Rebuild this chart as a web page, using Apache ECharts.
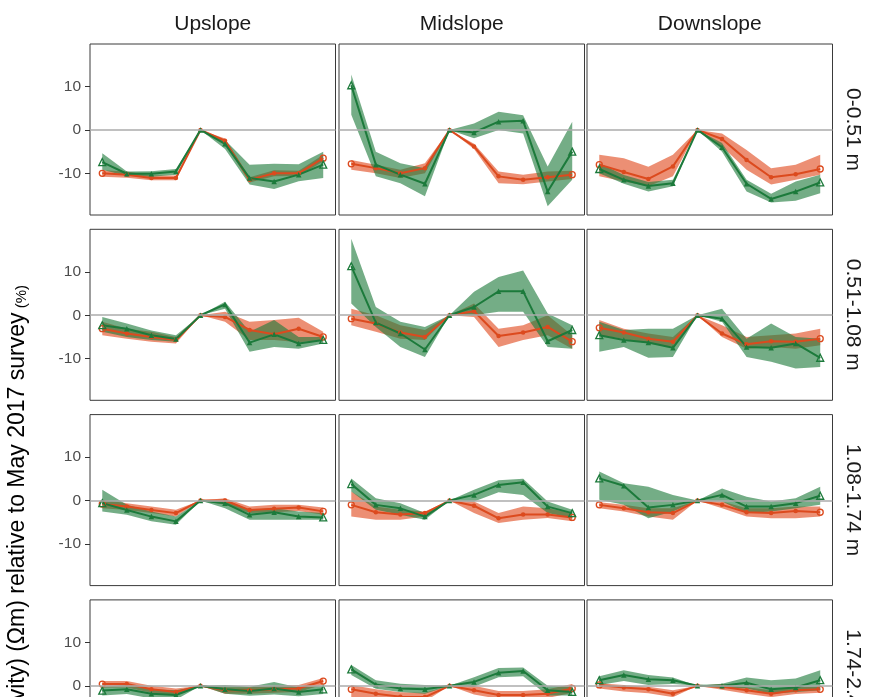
<!DOCTYPE html>
<html>
<head>
<meta charset="utf-8">
<script src="https://cdn.jsdelivr.net/npm/echarts@6/dist/echarts.min.js"></script>
<style>
  html, body { margin: 0; padding: 0; background: #ffffff; }
  #chart { width: 870px; height: 697px; }
</style>
</head>
<body>
<div id="chart"></div>
<script>
// Survey sequence (the 5th survey is the May 2017 reference)
const surveys = ['1', '2', '3', '4', '5', '6', '7', '8', '9', '10'];
const slopes = ['Upslope', 'Midslope', 'Downslope'];
const depths = ['0-0.51 m', '0.51-1.08 m', '1.08-1.74 m', '1.74-2.49 m'];
const yTicks = [-10, 0, 10];

// ---- Orange group: mean, lower and upper bound, one row per depth band ----
const orangeMeanUp = [
  [-10.0, -10.3, -11.1, -11.1, 0, -2.5, -11.5, -10.0, -10.0, -6.5],
  [-3.1, -4.2, -5.0, -5.7, 0, -0.4, -3.4, -4.4, -3.1, -5.0],
  [-0.8, -1.4, -2.2, -2.9, 0, 0.0, -2.2, -1.9, -1.6, -2.5],
  [0.4, 0.4, -0.8, -1.4, 0, -1.0, -1.0, -0.8, -0.6, 1.1]
];
const orangeLowUp = [
  [-10.8, -11.0, -11.6, -11.6, 0, -3.0, -12.1, -10.7, -10.6, -7.3],
  [-4.6, -5.4, -6.1, -6.5, 0, -1.5, -5.7, -5.7, -6.2, -5.7],
  [-1.8, -2.2, -2.9, -3.7, 0, -1.0, -2.9, -2.7, -2.4, -3.3],
  [-0.4, -0.4, -1.6, -2.3, 0, -1.8, -1.8, -1.6, -1.4, 0.3]
];
const orangeHighUp = [
  [-9.3, -9.6, -10.5, -10.5, 0, -2.0, -10.9, -9.3, -9.4, -5.7],
  [-1.5, -3.1, -3.8, -5.0, 0, 0.8, -1.5, -1.1, -0.6, -3.8],
  [0.2, -0.6, -1.4, -2.1, 0, 0.5, -1.4, -1.0, -1.0, -1.6],
  [1.1, 1.1, 0.0, -0.6, 0, -0.3, -0.3, 0.0, 0.2, 1.8]
];

const orangeMeanMid = [
  [-7.8, -8.8, -10.0, -8.8, 0, -3.8, -10.7, -11.5, -10.9, -10.3],
  [-0.8, -1.9, -4.0, -5.0, 0, 0.9, -4.8, -4.0, -2.7, -6.1],
  [-1.0, -2.7, -3.2, -2.9, 0, -1.2, -4.1, -3.2, -3.2, -3.9],
  [-0.8, -1.8, -2.5, -2.6, 0, -1.0, -2.1, -2.1, -1.8, -0.6]
];
const orangeLowMid = [
  [-9.2, -10.0, -11.1, -10.0, 0, -4.4, -12.3, -12.5, -11.9, -11.3],
  [-2.3, -3.8, -5.4, -5.7, 0, -0.4, -7.3, -5.7, -4.6, -7.7],
  [-3.7, -4.4, -4.4, -3.7, 0, -2.9, -5.2, -4.4, -4.0, -4.8],
  [-2.6, -2.8, -3.5, -3.6, 0, -2.0, -3.0, -3.0, -2.8, -1.6]
];
const orangeHighMid = [
  [-6.9, -8.0, -9.2, -7.7, 0, -3.2, -9.6, -10.3, -9.6, -9.4],
  [1.5, 0.0, -2.3, -3.4, 0, 2.7, -3.1, -2.3, 0.0, -4.6],
  [2.1, -1.4, -2.1, -2.5, 0, -0.2, -2.9, -1.4, -1.8, -2.9],
  [0.2, -0.8, -1.5, -1.6, 0, 0.0, -1.2, -1.2, -0.8, 0.4]
];

const orangeMeanDown = [
  [-8.0, -9.7, -11.3, -8.4, 0, -2.1, -6.9, -10.9, -10.2, -9.0],
  [-2.9, -4.0, -5.4, -6.1, 0, -4.2, -6.7, -6.0, -6.1, -5.4],
  [-1.0, -1.8, -2.7, -2.9, 0, -1.0, -2.7, -2.9, -2.4, -2.7],
  [0.2, -0.4, -0.8, -1.8, 0, -0.2, -1.0, -1.8, -1.0, -0.8]
];
const orangeLowDown = [
  [-10.7, -11.9, -13.0, -10.7, 0, -3.8, -9.2, -12.6, -11.5, -10.3],
  [-4.6, -5.4, -6.5, -7.3, 0, -5.0, -7.7, -7.3, -7.7, -6.9],
  [-1.8, -2.5, -3.7, -4.4, 0, -1.8, -3.7, -4.1, -4.1, -3.7],
  [-0.6, -1.3, -1.7, -2.6, 0, -0.9, -1.8, -2.6, -1.9, -1.6]
];
const orangeHighDown = [
  [-5.7, -6.5, -8.5, -5.7, 0, -0.8, -4.6, -8.8, -8.0, -5.7],
  [-1.1, -3.1, -4.2, -5.0, 0, -2.3, -5.0, -4.6, -4.2, -3.1],
  [-0.4, -1.0, -1.8, -1.8, 0, -0.2, -1.8, -1.8, -1.4, -1.4],
  [0.6, 0.2, -0.2, -1.0, 0, 0.4, -0.3, -1.0, -0.3, -0.1]
];

// ---- Green group ----
const greenMeanUp = [
  [-7.4, -10.1, -10.1, -9.6, 0, -3.2, -11.1, -11.9, -10.3, -8.0],
  [-2.3, -3.1, -4.6, -5.5, 0, 2.5, -6.3, -4.4, -6.5, -5.7],
  [-0.6, -2.2, -3.7, -4.8, 0, -0.6, -3.3, -2.7, -3.7, -3.9],
  [-1.1, -0.8, -1.8, -2.1, 0, -0.8, -1.2, -0.6, -1.4, -0.8]
];
const greenLowUp = [
  [-9.2, -10.6, -10.8, -10.3, 0, -4.4, -12.6, -13.6, -11.8, -11.1],
  [-3.8, -5.0, -5.7, -6.1, 0, 1.5, -8.4, -7.3, -7.7, -6.5],
  [-2.5, -3.3, -4.8, -5.6, 0, -1.8, -4.4, -4.4, -4.4, -4.4],
  [-2.2, -1.9, -2.9, -3.2, 0, -1.8, -2.3, -2.0, -2.4, -1.9]
];
const greenHighUp = [
  [-5.4, -9.6, -9.5, -9.0, 0, -2.3, -8.0, -7.8, -7.9, -5.0],
  [-0.4, -1.9, -3.5, -4.6, 0, 3.1, -3.8, -1.1, -5.0, -5.0],
  [2.5, -1.0, -2.5, -3.7, 0, 0.2, -2.1, -1.8, -2.5, -2.9],
  [-0.2, 0.2, -0.8, -1.0, 0, 0.2, -0.2, 0.9, -0.4, 0.1]
];

const greenMeanMid = [
  [10.3, -8.0, -10.3, -12.4, 0, -0.6, 1.9, 2.1, -14.2, -5.0],
  [11.3, -1.7, -4.2, -7.9, 0, 1.9, 5.5, 5.5, -6.0, -3.4],
  [3.8, -1.0, -1.8, -3.7, 0, 1.3, 3.6, 4.2, -1.4, -2.9],
  [3.8, 0.3, -0.6, -0.8, 0, 0.9, 3.0, 3.4, -1.0, -1.4]
];
const greenLowMid = [
  [3.5, -10.7, -12.3, -15.3, 0, -1.9, 0.0, -0.8, -17.6, -11.5],
  [2.7, -2.7, -7.3, -9.6, 0, 0.0, 0.8, 0.8, -7.3, -7.7],
  [2.1, -2.1, -3.3, -4.4, 0, -0.2, 1.9, 1.3, -2.9, -4.0],
  [2.5, -0.7, -1.4, -1.8, 0, -0.2, 2.0, 2.2, -2.2, -2.2]
];
const greenHighMid = [
  [12.8, -5.0, -7.7, -8.8, 0, 1.5, 4.2, 3.4, -8.4, 1.9],
  [17.6, 1.9, -1.5, -2.7, 0, 5.4, 8.8, 10.3, 0.4, -2.3],
  [5.1, 0.5, -0.6, -2.9, 0, 2.5, 4.7, 5.0, -0.2, -2.1],
  [4.8, 1.3, 0.5, 0.2, 0, 2.0, 4.1, 4.2, 0.0, -0.2]
];

const greenMeanDown = [
  [-9.0, -11.5, -12.9, -12.3, 0, -4.0, -12.4, -15.9, -14.2, -12.1],
  [-4.6, -5.7, -6.3, -7.5, 0, -0.8, -7.3, -7.5, -6.5, -9.8],
  [5.1, 3.4, -1.6, -1.0, 0, 1.3, -1.4, -1.4, -0.6, 1.1],
  [1.3, 2.5, 1.5, 1.3, 0, 0.0, 0.7, -0.8, -0.4, 1.3]
];
const greenLowDown = [
  [-10.0, -12.4, -14.2, -13.0, 0, -5.0, -14.2, -16.7, -16.3, -14.6],
  [-8.4, -7.3, -9.8, -9.6, 0, -1.5, -9.6, -10.7, -12.3, -11.9],
  [0.2, -1.0, -4.1, -2.5, 0, -0.2, -2.9, -2.5, -1.8, -1.0],
  [0.2, 1.1, 0.2, 0.4, 0, -0.5, -0.6, -1.8, -1.4, -1.0]
];
const greenHighDown = [
  [-7.7, -10.4, -12.0, -11.5, 0, -3.0, -11.5, -14.7, -11.9, -10.3],
  [-1.5, -3.4, -3.1, -3.1, 0, 1.5, -5.4, -1.9, -5.0, -5.4],
  [6.7, 4.0, 3.2, 1.3, 0, 2.8, 0.9, -0.2, 0.5, 3.2],
  [2.2, 3.6, 2.5, 1.9, 0, 0.5, 1.9, 1.3, 1.7, 3.6]
];

// ---- Styling and layout ----
const FONT = '"Liberation Sans", Arial, Helvetica, sans-serif';
const ORANGE = '#dc4a1e';
const GREEN = '#1c7a3b';
const ORANGE_BAND = 'rgba(224, 74, 30, 0.62)';
const GREEN_BAND = 'rgba(30, 122, 60, 0.62)';

const panelLeft = [90, 339, 587];
const panelWidth = 245.5;
const panelTop = [44, 229.3, 414.6, 599.9];
const panelHeight = 171;
const yMin = -19.6, yMax = 19.8;

const groups = {
  orange: {
    mean: [orangeMeanUp, orangeMeanMid, orangeMeanDown],
    low: [orangeLowUp, orangeLowMid, orangeLowDown],
    high: [orangeHighUp, orangeHighMid, orangeHighDown],
    line: ORANGE, band: ORANGE_BAND, symbol: 'circle', endSize: 6, midSize: 4.5
  },
  green: {
    mean: [greenMeanUp, greenMeanMid, greenMeanDown],
    low: [greenLowUp, greenLowMid, greenLowDown],
    high: [greenHighUp, greenHighMid, greenHighDown],
    line: GREEN, band: GREEN_BAND, symbol: 'triangle', endSize: 7, midSize: 5.5
  }
};

const grids = [], xAxes = [], yAxes = [], series = [], graphics = [];

depths.forEach((depth, r) => {
  slopes.forEach((slope, c) => {
    const g = grids.length;
    grids.push({
      left: panelLeft[c], top: panelTop[r], width: panelWidth, height: panelHeight,
      outerBoundsMode: 'none', containLabel: false,
      show: true, borderColor: '#3a3a3a', borderWidth: 1, backgroundColor: 'transparent'
    });
    xAxes.push({
      type: 'category', gridIndex: g, data: surveys, boundaryGap: true,
      axisLine: { show: false }, axisTick: { show: false },
      axisLabel: { show: false }, splitLine: { show: false }
    });
    const showY = c === 0;
    yAxes.push({
      type: 'value', gridIndex: g, min: yMin, max: yMax,
      axisLine: { show: false },
      splitLine: { show: false },
      axisTick: { show: showY, customValues: yTicks, length: 5, lineStyle: { color: '#333', width: 1 } },
      axisLabel: { show: showY, customValues: yTicks, margin: 9, fontSize: 15.5, color: '#4d4d4d', fontFamily: FONT }
    });

    // zero reference line across the whole panel
    series.push({
      type: 'line', xAxisIndex: g, yAxisIndex: g, data: [], z: 1, silent: true,
      markLine: {
        silent: true, symbol: ['none', 'none'], label: { show: false },
        lineStyle: { color: '#ababab', width: 1.6, type: 'solid' },
        data: [{ yAxis: 0 }]
      }
    });

    ['orange', 'green'].forEach((key) => {
      const grp = groups[key];
      const mean = grp.mean[c][r], low = grp.low[c][r], high = grp.high[c][r];
      const stackId = key + '-' + g;
      // ribbon: invisible lower bound, then the band height stacked on it
      series.push({
        type: 'line', xAxisIndex: g, yAxisIndex: g, data: low, z: 2,
        stack: stackId, stackStrategy: 'all', symbol: 'none', silent: true,
        lineStyle: { width: 0, opacity: 0 }
      });
      series.push({
        type: 'line', xAxisIndex: g, yAxisIndex: g,
        data: high.map((h, i) => +(h - low[i]).toFixed(3)), z: 2,
        stack: stackId, stackStrategy: 'all', symbol: 'none', silent: true,
        lineStyle: { width: 0, opacity: 0 },
        areaStyle: { color: grp.band, opacity: 1 }
      });
      // mean line with markers: hollow at the first and last survey
      series.push({
        type: 'line', xAxisIndex: g, yAxisIndex: g, z: 2,
        data: mean.map((v, i) => {
          const end = i === 0 || i === mean.length - 1;
          return end ? {
            value: v, symbol: grp.symbol, symbolSize: grp.endSize,
            itemStyle: { color: 'rgba(255,255,255,0)', borderColor: grp.line, borderWidth: 1.3 }
          } : {
            value: v, symbol: grp.symbol, symbolSize: grp.midSize,
            itemStyle: { color: grp.line, borderWidth: 0 }
          };
        }),
        showSymbol: true, silent: true,
        lineStyle: { color: grp.line, width: 2 },
        itemStyle: { color: grp.line }
      });
    });
  });
});

// column strip labels
slopes.forEach((slope, c) => {
  graphics.push({
    type: 'text', x: panelLeft[c] + panelWidth / 2, y: 24,
    style: { text: slope, fontSize: 21, fontFamily: FONT, fill: '#1a1a1a', align: 'center', verticalAlign: 'middle' }
  });
});
// row strip labels
depths.forEach((depth, r) => {
  graphics.push({
    type: 'text', x: 853, y: panelTop[r] + panelHeight / 2, rotation: -Math.PI / 2,
    style: { text: depth, fontSize: 21, fontFamily: FONT, fill: '#1a1a1a', align: 'center', verticalAlign: 'middle' }
  });
});
// y-axis title
graphics.push({
  type: 'text', x: 18, y: 285, rotation: Math.PI / 2,
  style: {
    text: '{m|Change in (apparent resistivity) (Ωm) relative to May 2017 survey}{s| (%)}',
    align: 'right', verticalAlign: 'middle', fill: '#000',
    rich: {
      m: { fontSize: 23, fontFamily: FONT, fill: '#000', verticalAlign: 'bottom' },
      s: { fontSize: 15, fontFamily: FONT, fill: '#000', verticalAlign: 'bottom' }
    }
  }
});

const chart = echarts.init(document.getElementById('chart'));
chart.setOption({
  animation: false,
  backgroundColor: '#ffffff',
  grid: grids,
  xAxis: xAxes,
  yAxis: yAxes,
  series: series,
  graphic: graphics
});
</script>
</body>
</html>
